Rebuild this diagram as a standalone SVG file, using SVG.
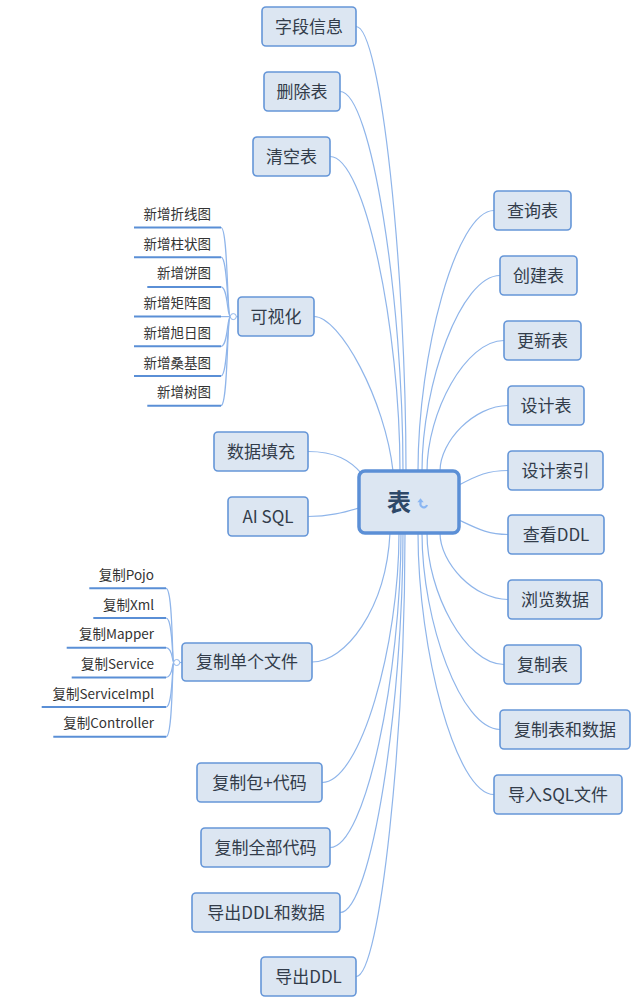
<svg xmlns="http://www.w3.org/2000/svg" width="640" height="1008" viewBox="0 0 640 1008">
<style>
.bg{fill:#ffffff}
.conn path{fill:none;stroke:#8fb5ea;stroke-width:1.2}
.node rect{fill:#dce6f2;stroke:#6596d8;stroke-width:1.6}
.node text{font-family:"Noto Sans CJK SC","Microsoft YaHei","Liberation Sans",sans-serif;font-size:17px;fill:#323c4a;text-anchor:middle}
.leaf line{stroke:#5a8fd6;stroke-width:2}
.leaf text{font-family:"Noto Sans CJK SC","Microsoft YaHei","Liberation Sans",sans-serif;font-size:13.5px;fill:#333333;text-anchor:end}
.fold{fill:#ffffff;stroke:#8fb5ea;stroke-width:1}
</style>
<rect class="bg" x="0" y="0" width="640" height="1008"/>
<g id="connectors" class="conn">
<path d="M406,471 C406,271 381,26.5 356,26.5"/>
<path d="M403,471 C403,300 371.5,91.5 340,91.5"/>
<path d="M400,471 C400,329.5 365,156.5 330,156.5"/>
<path d="M393,471 C385,400 340,316.5 314,316.5"/>
<path d="M362,474 C350,460 335,451.5 308,451.5"/>
<path d="M359,508 C345,512 330,516.5 308,516.5"/>
<path d="M390,533 C386,610 345,662 312,662"/>
<path d="M399,533 C399,645.3 360.5,782.5 322,782.5"/>
<path d="M401,533 C401,674.5 365.5,847.5 330,847.5"/>
<path d="M403,533 C403,703.8 371.5,912.5 340,912.5"/>
<path d="M405,533 C405,732.6 380.5,976.5 356,976.5"/>
<path d="M418,471 C418,353.8 456,210.5 494,210.5"/>
<path d="M422,471 C422,383 461,275.5 500,275.5"/>
<path d="M427,471 C427,412.3 465.5,340.5 504,340.5"/>
<path d="M440,471 C440,441.5 474,405.5 508,405.5"/>
<path d="M459,485 C478,475 488,470.5 508,470.5"/>
<path d="M459,520 C478,529 488,534.5 508,534.5"/>
<path d="M440,533 C440,562.9 474,599.5 508,599.5"/>
<path d="M427,533 C427,592.2 465.5,664.5 504,664.5"/>
<path d="M422,533 C422,621.4 461,729.5 500,729.5"/>
<path d="M418,533 C418,650.7 456,794.5 494,794.5"/>
<path d="M221,227.5 C228,227.5 227,316.6 230.3,316.6"/>
<path d="M221,257.2 C228,257.2 227,316.6 230.3,316.6"/>
<path d="M221,286.9 C228,286.9 227,316.6 230.3,316.6"/>
<path d="M221,316.6 L230.3,316.6"/>
<path d="M221,346.3 C228,346.3 227,316.6 230.3,316.6"/>
<path d="M221,376 C228,376 227,316.6 230.3,316.6"/>
<path d="M221,405.7 C228,405.7 227,316.6 230.3,316.6"/>
<path d="M236.3,316.6 L238,316.6"/>
<path d="M166,588.3 C173,588.3 172,662.5 173.7,662.5"/>
<path d="M166,618 C173,618 172,662.5 173.7,662.5"/>
<path d="M166,647.7 C173,647.7 172,662.5 173.7,662.5"/>
<path d="M166,677.4 C173,677.4 172,662.5 173.7,662.5"/>
<path d="M166,707.1 C173,707.1 172,662.5 173.7,662.5"/>
<path d="M166,736.8 C173,736.8 172,662.5 173.7,662.5"/>
<path d="M179.7,662.5 L182,662.5"/>
</g>
<circle class="fold" cx="233.3" cy="316.6" r="3"/>
<circle class="fold" cx="176.7" cy="662.5" r="3"/>
<g id="center" class="node">
<rect x="359" y="471" width="100" height="62" rx="6" style="stroke-width:3.5;stroke:#5b8fd6"/>
<text x="399" y="511" style="font-size:24px;font-weight:bold;fill:#2e4868">表</text>
<path d="M420.5,501.5 L420.5,503 A3.4,3.4 0 0 0 427,505" fill="none" stroke="#8ab6f2" stroke-width="2.2"/>
<path d="M417.3,502.2 L420.5,498.2 L423.7,502.2 Z" fill="#8ab6f2"/>
</g>
<g id="n-ziduan" class="node"><rect x="262" y="7" width="94" height="39" rx="4"/><text x="309" y="32.5">字段信息</text></g>
<g id="n-shanchu" class="node"><rect x="264" y="72" width="76" height="39" rx="4"/><text x="302" y="97.5">删除表</text></g>
<g id="n-qingkong" class="node"><rect x="253" y="137" width="77" height="39" rx="4"/><text x="291.5" y="162.5">清空表</text></g>
<g id="n-keshihua" class="node"><rect x="238" y="297" width="76" height="39" rx="4"/><text x="276" y="322.5">可视化</text></g>
<g id="n-tianchong" class="node"><rect x="214" y="432" width="94" height="39" rx="4"/><text x="261" y="457.5">数据填充</text></g>
<g id="n-aisql" class="node"><rect x="228" y="497" width="80" height="39" rx="4"/><text x="268" y="522.5">AI SQL</text></g>
<g id="n-danfile" class="node"><rect x="182" y="643" width="130" height="38" rx="4"/><text x="247" y="668">复制单个文件</text></g>
<g id="n-bao" class="node"><rect x="197" y="763" width="125" height="39" rx="4"/><text x="259.5" y="788.5">复制包+代码</text></g>
<g id="n-quanbu" class="node"><rect x="201" y="828" width="129" height="39" rx="4"/><text x="265.5" y="853.5">复制全部代码</text></g>
<g id="n-ddlsj" class="node"><rect x="192" y="893" width="148" height="39" rx="4"/><text x="266" y="918.5">导出DDL和数据</text></g>
<g id="n-ddl" class="node"><rect x="261" y="957" width="95" height="39" rx="4"/><text x="308.5" y="982.5">导出DDL</text></g>
<g id="n-chaxun" class="node"><rect x="494" y="191" width="77" height="39" rx="4"/><text x="532.5" y="216.5">查询表</text></g>
<g id="n-chuangjian" class="node"><rect x="500" y="256" width="77" height="39" rx="4"/><text x="538.5" y="281.5">创建表</text></g>
<g id="n-gengxin" class="node"><rect x="504" y="321" width="77" height="39" rx="4"/><text x="542.5" y="346.5">更新表</text></g>
<g id="n-sheji" class="node"><rect x="508" y="386" width="76" height="39" rx="4"/><text x="546" y="411.5">设计表</text></g>
<g id="n-suoyin" class="node"><rect x="508" y="451" width="95" height="39" rx="4"/><text x="555.5" y="476.5">设计索引</text></g>
<g id="n-chakanddl" class="node"><rect x="508" y="515" width="96" height="39" rx="4"/><text x="556" y="540.5">查看DDL</text></g>
<g id="n-liulan" class="node"><rect x="508" y="580" width="94" height="39" rx="4"/><text x="555" y="605.5">浏览数据</text></g>
<g id="n-fuzhibiao" class="node"><rect x="504" y="645" width="77" height="39" rx="4"/><text x="542.5" y="670.5">复制表</text></g>
<g id="n-fuzhisj" class="node"><rect x="500" y="710" width="130" height="39" rx="4"/><text x="565" y="735.5">复制表和数据</text></g>
<g id="n-daoru" class="node"><rect x="494" y="775" width="128" height="39" rx="4"/><text x="558" y="800.5">导入SQL文件</text></g>
<g id="leaves-keshihua" class="leaf">
<line x1="134" y1="227.5" x2="221" y2="227.5"/><text x="211" y="219">新增折线图</text>
<line x1="134" y1="257.2" x2="221" y2="257.2"/><text x="211" y="248.7">新增柱状图</text>
<line x1="147.3" y1="286.9" x2="221" y2="286.9"/><text x="211" y="278.4">新增饼图</text>
<line x1="134" y1="316.6" x2="221" y2="316.6"/><text x="211" y="308.1">新增矩阵图</text>
<line x1="134" y1="346.3" x2="221" y2="346.3"/><text x="211" y="337.8">新增旭日图</text>
<line x1="134" y1="376" x2="221" y2="376"/><text x="211" y="367.5">新增桑基图</text>
<line x1="147.3" y1="405.7" x2="221" y2="405.7"/><text x="211" y="397.2">新增树图</text>
</g>
<g id="leaves-danfile" class="leaf">
<line x1="89.3" y1="588.3" x2="166" y2="588.3"/><text x="154" y="579.8">复制Pojo</text>
<line x1="93.3" y1="618" x2="166" y2="618"/><text x="154" y="609.5">复制Xml</text>
<line x1="66.7" y1="647.7" x2="166" y2="647.7"/><text x="154" y="639.2">复制Mapper</text>
<line x1="71.7" y1="677.4" x2="166" y2="677.4"/><text x="154" y="668.9">复制Service</text>
<line x1="41.7" y1="707.1" x2="166" y2="707.1"/><text x="154" y="698.6">复制ServiceImpl</text>
<line x1="53.3" y1="736.8" x2="166" y2="736.8"/><text x="154" y="728.3">复制Controller</text>
</g>
</svg>
